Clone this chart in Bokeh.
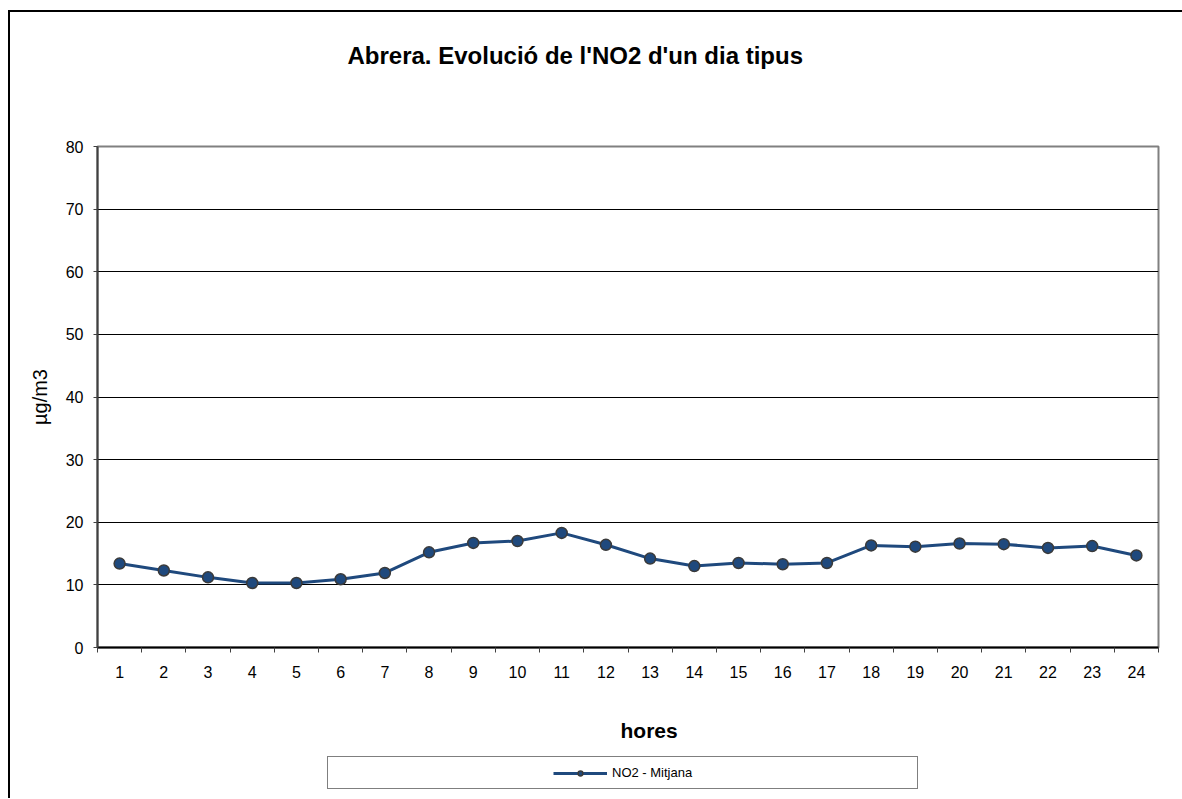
from bokeh.plotting import figure
from bokeh.layouts import column
from bokeh.models import (FixedTicker, Legend, LegendItem, Range1d, ColumnDataSource,
                          LinearAxis, Title)
from bokeh.embed import file_html
from bokeh.resources import INLINE

# ---- data ----
hours = list(range(1, 25))
no2_mean = [13.4, 12.3, 11.2, 10.3, 10.3, 10.9, 11.9, 15.2, 16.7, 17.0, 18.3, 16.4,
            14.2, 13.0, 13.5, 13.3, 13.5, 16.3, 16.1, 16.6, 16.5, 15.9, 16.2, 14.7]
y_ticks = [0, 10, 20, 30, 40, 50, 60, 70, 80]
title_text = "Abrera. Evolució de l'NO2 d'un dia tipus"
x_title = "hores"
y_title = "µg/m3"
series_name = "NO2 - Mitjana"

FONT = "Liberation Sans"
LINE_COLOR = "#1F497D"
MARKER_EDGE = "#3A3A3A"
W = 1172

source = ColumnDataSource(dict(hour=hours, no2=no2_mean))

# ---------------- main chart ----------------
p = figure(width=W, height=740, output_backend="svg", toolbar_location=None,
           x_range=Range1d(0.5, 24.5), y_range=Range1d(0, 80),
           min_border_left=87, min_border_right=24, min_border_top=134,
           min_border_bottom=105)
p.background_fill_color = "white"
p.border_fill_color = "white"
p.outline_line_color = "#808080"
p.outline_line_width = 2

p.title.text = title_text
p.title.align = "left"
p.title.offset = 250
p.title.vertical_align = "bottom"
p.title.standoff = 0
p.title.text_font = FONT
p.title.text_font_size = "24px"
p.title.text_font_style = "bold"
p.title.text_color = "black"

ya = p.yaxis[0]
ya.ticker = FixedTicker(ticks=y_ticks)
ya.axis_line_color = "#404040"
ya.axis_line_width = 2
ya.major_tick_line_color = "#404040"
ya.major_tick_out = 4
ya.major_tick_in = 0
ya.minor_tick_line_color = None
ya.major_label_text_font = FONT
ya.major_label_text_font_size = "16px"
ya.major_label_text_color = "black"
ya.major_label_standoff = 10
ya.axis_label = y_title
ya.axis_label_text_font = FONT
ya.axis_label_text_font_size = "20px"
ya.axis_label_text_font_style = "normal"
ya.axis_label_text_color = "black"
ya.axis_label_standoff = 12

xa = p.xaxis[0]
xa.ticker = FixedTicker(ticks=hours, minor_ticks=[h - 0.5 for h in hours] + [24.5])
xa.axis_line_color = "black"
xa.axis_line_width = 2
xa.major_tick_line_color = None
xa.major_tick_out = 0
xa.major_tick_in = 0
xa.minor_tick_line_color = "#404040"
xa.minor_tick_out = 5
xa.minor_tick_in = 0
xa.major_label_text_font = FONT
xa.major_label_text_font_size = "16px"
xa.major_label_text_color = "black"
xa.major_label_standoff = 13

p.xgrid.visible = False
p.ygrid.ticker = FixedTicker(ticks=y_ticks[1:-1])
p.ygrid.grid_line_color = "black"
p.ygrid.grid_line_width = 1

p.line("hour", "no2", source=source, line_color=LINE_COLOR, line_width=3)
p.scatter("hour", "no2", source=source, size=11, fill_color=LINE_COLOR,
          line_color=MARKER_EDGE, line_width=1.5)


def spacer(size):
    # an invisible axis used only to reserve space in a side panel
    return LinearAxis(ticker=FixedTicker(ticks=[1]), major_label_overrides={1: ""},
                      axis_line_color=None, major_tick_line_color=None,
                      minor_tick_line_color=None, major_tick_out=size,
                      major_tick_in=0, major_label_standoff=0,
                      major_label_text_font_size="1px")


p.add_layout(spacer(78), "above")
p.add_layout(spacer(36), "below")
p.add_layout(Title(text=x_title, align="left", offset=523, vertical_align="bottom",
                   standoff=0, text_font=FONT, text_font_size="21px",
                   text_font_style="bold", text_color="black"), "below")

# ---------------- legend strip (same frame borders as the chart) ----------------
lg = figure(width=W, height=44, output_backend="svg", toolbar_location=None,
            x_range=Range1d(0.5, 24.5), y_range=Range1d(0, 1),
            x_axis_type=None, y_axis_type=None,
            min_border_left=87, min_border_right=24, min_border_top=0,
            min_border_bottom=0, margin=(2, 0, 0, 0))
lg.outline_line_color = None
lg.background_fill_color = "white"
lg.border_fill_color = "white"
# legend proxies: the series itself, which lies outside this strip's y range
lg_line = lg.line("hour", "no2", source=source, line_color=LINE_COLOR, line_width=3)
lg_mark = lg.scatter("hour", "no2", source=source, size=11, fill_color=LINE_COLOR,
                     line_color=MARKER_EDGE, line_width=1.5)
blank = lg.line("hour", "no2", source=source, line_alpha=0)
legend = Legend(items=[LegendItem(label="", renderers=[blank]),
                       LegendItem(label=series_name, renderers=[lg_line, lg_mark]),
                       LegendItem(label="", renderers=[blank])],
                location=(230, 9), orientation="horizontal",
                padding=8, margin=0, spacing=98,
                glyph_width=54, glyph_height=12, label_height=12, label_width=60,
                label_standoff=5, label_text_font=FONT, label_text_font_size="13px",
                label_text_color="black",
                border_line_color="black", border_line_width=1,
                background_fill_color="white", background_fill_alpha=1.0)
lg.add_layout(legend, "center")

page = column(p, lg, spacing=0)
page.styles = {"border-left": "2px solid black", "border-top": "2px solid black",
               "margin-top": "10px", "margin-left": "8px"}

open("out.html", "w").write(file_html(page, INLINE))
